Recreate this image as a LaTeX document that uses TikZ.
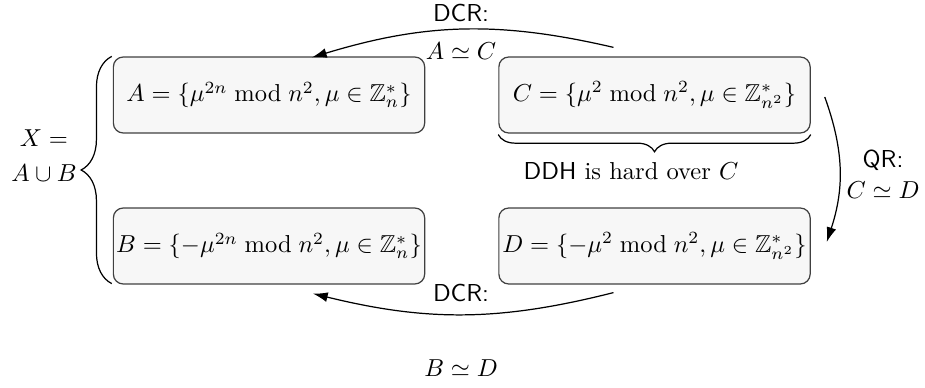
\documentclass[tikz,border=0pt]{standalone}
\usepackage{amsmath,amssymb}
\usetikzlibrary{decorations.pathreplacing,arrows.meta,calc}
\begin{document}
\begin{tikzpicture}[x=0.408pt,y=-0.408pt,
  setbox/.style={draw=black!75, fill=black!3, rounded corners=4pt, minimum width=127pt, minimum height=31pt, inner sep=1pt, line width=0.5pt},
  conn/.style={-{Latex[length=6pt,width=4pt]}, line width=0.5pt},
  lbl/.style={align=center, inner sep=0pt},
  brc/.style={decorate, line width=0.5pt},
]
\useasboundingbox (0,0) rectangle (925,388);
\node[setbox] (A) at (269,95) {$A=\{\mu^{2n}\bmod n^2,\mu\in\mathbb{Z}_n^*\}$};
\node[setbox] (C) at (654.5,95) {$C=\{\mu^{2}\bmod n^2,\mu\in\mathbb{Z}_{n^2}^*\}$};
\node[setbox] (B) at (269,246) {$B=\{-\mu^{2n}\bmod n^2,\mu\in\mathbb{Z}_n^*\}$};
\node[setbox] (D) at (654.5,246) {$D=\{-\mu^{2}\bmod n^2,\mu\in\mathbb{Z}_{n^2}^*\}$};

\draw[conn] ($(C.north)+(-41,-9)$) to[bend right=15] ($(A.north)+(43,1)$);
\draw[conn] ($(C.east)+(14,2)$) to[bend left=19] ($(D.east)+(16,-4)$);
\draw[conn] ($(D.south)+(-41,8)$) to[bend left=14] ($(B.south)+(44,9)$);

\node[lbl] (l1) at (461,32) {\textsf{DCR:}\\[3.5pt]$A\simeq C$};
\node[lbl] (l2) at (461,330) {\textsf{DCR:}\\[18.6pt]$B\simeq D$};
\node[lbl] (l3) at (883,174) {\textsf{QR:}\\[0.5pt]$C\simeq D$};
\node[lbl] (l4) at (44,156) {$X=$\\[2.3pt]$A\cup B$};

\draw[brc, decoration={brace, amplitude=12.5pt}] ($(B.south west)+(-1,-1)$) -- ($(A.north west)+(-1,0)$);
\draw[brc, decoration={brace, amplitude=7pt}] ($(C.south east)+(0,1)$) -- ($(C.south west)+(0,1)$);
\node[anchor=base, inner sep=0pt] (ddh) at (631,180) {\textsf{DDH} is hard over $C$};
\end{tikzpicture}
\end{document}
